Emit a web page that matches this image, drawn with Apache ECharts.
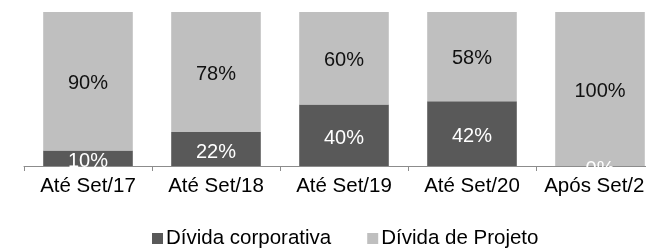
<!DOCTYPE html>
<html><head><meta charset="utf-8">
<script src="https://cdn.jsdelivr.net/npm/echarts@6/dist/echarts.min.js"></script>
<style>html,body{margin:0;padding:0;background:#fff;overflow:hidden;width:646px;height:251px}#c{width:664px;height:251px}</style>
</head><body><div id="c"></div>
<script>
const categories = ['Até Set/17','Até Set/18','Até Set/19','Até Set/20','Após Set/21'];
const corporativa = [10,22,40,42,0];
const projeto = [90,78,60,58,100];
const seriesNames = ['Dívida corporativa','Dívida de Projeto'];
const FONT = "'Liberation Sans', Arial, sans-serif";

const chart = echarts.init(document.getElementById('c'), null, {renderer:'canvas'});
chart.setOption({
  animation:false,
  grid:{left:24, top:12, right:0, bottom:85, containLabel:false},
  legend:{
    data:seriesNames, left:147, top:223, icon:'rect', itemWidth:11, itemHeight:11, itemGap:36,
    textStyle:{fontFamily:FONT, fontSize:20.5, color:'#000', padding:[0,0,0,-2]}
  },
  xAxis:{
    type:'category', data:categories,
    axisLine:{lineStyle:{color:'#8c8c8c', width:1}},
    axisTick:{show:true, length:5, lineStyle:{color:'#8c8c8c'}},
    axisLabel:{fontFamily:FONT, fontSize:20.5, color:'#000', margin:10, interval:0}
  },
  yAxis:{type:'value', min:0, max:100, show:false, splitLine:{show:false}},
  series:[
    {name:seriesNames[0], type:'bar', stack:'a', data:corporativa, barCategoryGap:'30%',
     itemStyle:{color:'#595959'},
     label:{show:true, position:'inside', formatter:'{c}%', color:'#fff', fontFamily:FONT, fontSize:20, offset:[0,3]}},
    {name:seriesNames[1], type:'bar', stack:'a', data:projeto, barCategoryGap:'30%',
     itemStyle:{color:'#bfbfbf'},
     label:{show:true, position:'inside', formatter:'{c}%', color:'#111', fontFamily:FONT, fontSize:20, offset:[0,2]}}
  ]
});
// mask label overflow below the axis (labels clipped at plot area in original)
const y0 = chart.convertToPixel({yAxisIndex:0}, 0);
const rects = [];
categories.forEach((c,i)=>{
  const x = chart.convertToPixel({xAxisIndex:0}, c);
  rects.push({type:'rect', z:100, shape:{x:x-50, y:y0+1, width:100, height:8}, style:{fill:'#fff'}});
});
chart.setOption({graphic:rects});
</script></body></html>
